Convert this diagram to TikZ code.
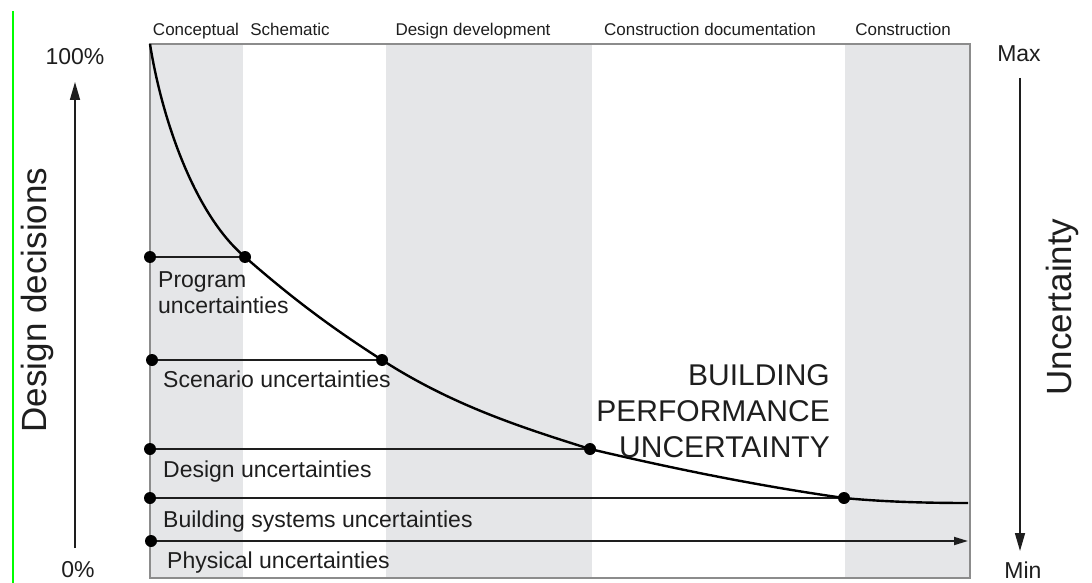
\documentclass[tikz,border=0pt]{standalone}
\usepackage{fontspec}
\setmainfont{Liberation Sans}
\usetikzlibrary{arrows.meta}
\definecolor{bande}{RGB}{229,230,232}
\definecolor{cadre}{RGB}{140,140,140}
\definecolor{encre}{RGB}{30,30,30}

\begin{document}
\begin{tikzpicture}[x=1pt,y=-1pt]
\tikzstyle{axe}=[-{Triangle[length=18pt,width=10pt]},line width=1.6pt,encre]
\tikzset{phase/.style={anchor=base,inner sep=0pt,text=encre,font=\fontsize{17}{20}\selectfont},
etiq/.style={anchor=base west,inner sep=0pt,text=encre,align=left,font=\fontsize{23}{26}\selectfont},
titre/.style={inner sep=0pt,text=encre,font=\fontsize{35}{40}\selectfont},
point/.style={circle,fill=black,inner sep=0pt,minimum size=12pt}}
\useasboundingbox (0,0) rectangle (1092,583);
\draw[green,line width=1.5pt] (13,11) -- (13,583);

% bandes des phases
\fill[bande] (150,44) rectangle (243,578);
\fill[bande] (386,44) rectangle (592,578);
\fill[bande] (845,44) rectangle (970,578);
\draw[cadre,line width=1.2pt] (150,44) rectangle (970,578);

\node[phase] (ph1) at (196,36) {Conceptual};
\node[phase] (ph2) at (290,36) {Schematic};
\node[phase] (ph3) at (473,36) {Design development};
\node[phase] (ph4) at (710,36) {Construction documentation};
\node[phase] (ph5) at (903,36) {Construction};

% axes
\node[etiq,anchor=base] (haut) at (75,65) {100\%};
\node[etiq,anchor=base] (bas) at (78,577) {0\%};
\coordinate (a0) at (75,548);
\coordinate (a1) at (75,82);
\draw[axe] (a0) -- (a1);
\node[titre,rotate=90] (dd) at (37,300) {Design decisions};

\node[etiq,anchor=base] (max) at (1019,62) {Max};
\node[etiq,anchor=base] (min) at (1023,578) {Min};
\coordinate (b0) at (1020,78);
\coordinate (b1) at (1020,551);
\draw[axe] (b0) -- (b1);
\node[titre,rotate=90] (unc) at (1062,307) {Uncertainty};

% points
\node[point] (g1) at (150,257) {};
\node[point] (g2) at (152,360) {};
\node[point] (g3) at (150,449) {};
\node[point] (g4) at (150,498) {};
\node[point] (g5) at (151,541) {};
\node[point] (d1) at (245,257) {};
\node[point] (d2) at (382,360) {};
\node[point] (d3) at (590,449) {};
\node[point] (d4) at (844,498) {};
\coordinate (haut0) at (150,44);
\coordinate (fin) at (968,541);
\coordinate (bout) at (968,503);

\draw[line width=1.8pt,encre] (g1) -- (d1);
\draw[line width=1.8pt,encre] (g2) -- (d2);
\draw[line width=1.8pt,encre] (g3) -- (d3);
\draw[line width=1.8pt,encre] (g4) -- (d4);
\draw[-{Triangle[length=14pt,width=8pt]},line width=1.8pt,encre] (g5) -- (fin);

% courbe
\draw[line width=2.4pt] (haut0) .. controls (162,120) and (195,215) .. (d1.center)
  .. controls (293,299) and (332,328) .. (d2.center)
  .. controls (452,405) and (520,427) .. (d3.center)
  .. controls (675,469) and (759,486) .. (d4.center)
  .. controls (885,502) and (930,503) .. (bout);

\node[etiq] (e1) at (158,313) {Program\\uncertainties};
\node[etiq] (e2) at (163,387) {Scenario uncertainties};
\node[etiq] (e3) at (163,477) {Design uncertainties};
\node[etiq] (e4) at (163,527) {Building systems uncertainties};
\node[etiq] (e5) at (167,568) {Physical uncertainties};

\node[inner sep=0pt,align=right,anchor=base east,text=encre,font=\fontsize{30}{36}\selectfont] (bpu) at (830,457) {BUILDING\\PERFORMANCE\\UNCERTAINTY};
\end{tikzpicture}
\end{document}
